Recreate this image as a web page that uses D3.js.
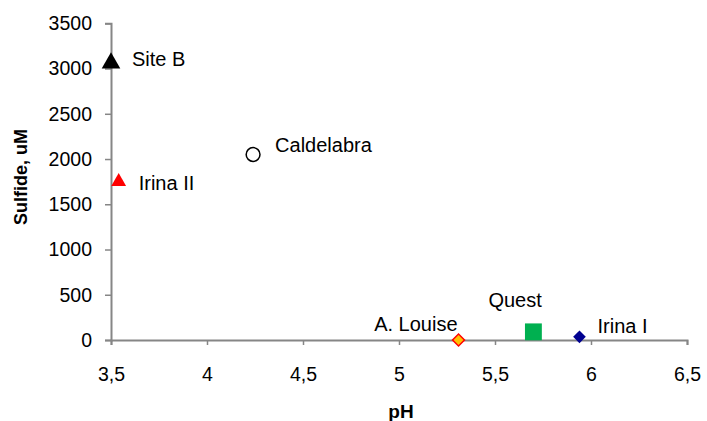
<!DOCTYPE html>
<html><head><meta charset="utf-8">
<script src="https://cdn.jsdelivr.net/npm/d3@7"></script>
<style>body{margin:0;background:#fff}svg{display:block}text{font-family:"Liberation Sans",Arial,sans-serif}</style>
</head><body><div id="c"></div>
<script>
const sites = ["Site B","Irina II","Caldelabra","A. Louise","Quest","Irina I"];
const phValues = [3.5, 3.54, 4.24, 5.31, 5.70, 5.94];
const sulfideValues = [3060, 1750, 2050, 0, 90, 35];
const xTicks = [3.5,4,4.5,5,5.5,6,6.5];
const yTicks = [0,500,1000,1500,2000,2500,3000,3500];

const W=707,H=421;
const svg=d3.select("#c").append("svg").attr("width",W).attr("height",H);
const x=d3.scaleLinear().domain([3.5,6.5]).range([111,687]);
const y=d3.scaleLinear().domain([0,3500]).range([340,23.3]);
const fs=19.5, lfs=20, axisCol="#868686";

const ga=svg.append("g");
const xa=ga.append("g").attr("transform","translate(0,340)")
  .call(d3.axisBottom(x).tickValues(xTicks).tickSize(5).tickPadding(22).tickFormat(d=>String(d).replace(".",",")));
const ya=ga.append("g").attr("transform","translate(111,0)")
  .call(d3.axisLeft(y).tickValues(yTicks).tickSize(6).tickPadding(13).tickFormat(d=>d));
[xa,ya].forEach(a=>{
  a.selectAll("path").attr("stroke",axisCol).attr("stroke-width",2);
  a.selectAll("line").attr("stroke",axisCol).attr("stroke-width",1.5);
  a.selectAll("text").attr("fill","#000").attr("font-size",fs).attr("font-family","Liberation Sans, Arial, sans-serif");
});

svg.append("text").attr("x",401).attr("y",418).attr("text-anchor","middle")
  .attr("font-weight","bold").attr("font-size",19).text("pH");
svg.append("text").attr("transform","translate(27,177) rotate(-90)").attr("text-anchor","middle")
  .attr("font-weight","bold").attr("font-size",18).text("Sulfide, uM");

const diamond = d3.symbolSquare;
const styles=[
  {type:d3.symbolTriangle,size:150,fill:"#000",stroke:"none",rot:0},
  {type:d3.symbolTriangle,size:95,fill:"#ff0000",stroke:"none",rot:0},
  {type:d3.symbolCircle,size:150,fill:"#fff",stroke:"#000",rot:0},
  {type:diamond,size:72,fill:"#ffc000",stroke:"#ff0000",rot:45},
  {type:d3.symbolSquare,size:285,fill:"#00b050",stroke:"none",rot:0},
  {type:diamond,size:80,fill:"#000090",stroke:"none",rot:45}
];
const labelOff=[[21,-4],[20,1],[22,-10],[-1,-16],[-45,-32],[18,-11]];
const anchors=["start","start","start","end","start","start"];
const g=svg.append("g");
sites.forEach((s,i)=>{
  const st=styles[i];
  g.append("path").attr("d",d3.symbol().type(st.type).size(st.size)())
    .attr("transform",`translate(${x(phValues[i])},${y(sulfideValues[i])}) rotate(${st.rot})`)
    .attr("fill",st.fill).attr("stroke",st.stroke).attr("stroke-width",1.5);
  g.append("text").attr("x",x(phValues[i])+labelOff[i][0]).attr("y",y(sulfideValues[i])+labelOff[i][1])
    .attr("font-size",lfs).attr("dy","0.35em").attr("text-anchor",anchors[i]).text(s);
});
</script></body></html>
